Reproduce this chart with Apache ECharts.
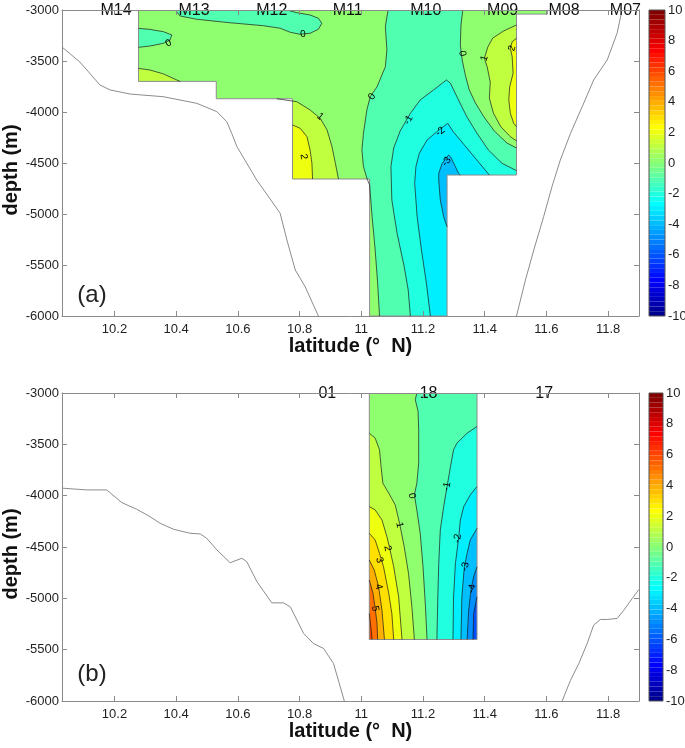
<!DOCTYPE html>
<html>
<head>
<meta charset="utf-8">
<script src="https://cdn.jsdelivr.net/npm/echarts@6.0.0/dist/echarts.min.js"></script>
<style>
html,body{margin:0;padding:0;background:#ffffff;}
#chart{width:685px;height:748px;}
</style>
</head>
<body>
<div id="chart"></div>
<script>
// ---------------- axes ----------------
const latMin = 10.03, latMax = 11.9;
const latTicks = [10.2, 10.4, 10.6, 10.8, 11, 11.2, 11.4, 11.6, 11.8];
const depthMin = -6000, depthMax = -3000, depthStep = 500;
const cbarMin = -10, cbarMax = 10, cbarStep = 2;

// ---------------- stations ----------------
const stationsA = ['M14', 'M13', 'M12', 'M11', 'M10', 'M09', 'M08', 'M07'];
const stationLatA = [10.205, 10.458, 10.710, 10.956, 11.209, 11.458, 11.657, 11.856];
const stationsB = ['01', '18', '17'];
const stationLatB = [10.890, 11.218, 11.593];

// ---------------- bathymetry (lat, depth) ----------------
const bathyA_west = [[10.030,-3363],[10.088,-3510],[10.153,-3735],[10.186,-3784],[10.251,-3824],[10.358,-3850],[10.467,-3915],[10.532,-3997],[10.564,-4095],[10.580,-4209],[10.597,-4340],[10.629,-4503],[10.661,-4667],[10.698,-4824],[10.737,-4993],[10.759,-5255],[10.786,-5549],[10.818,-5713],[10.861,-6000]];
const bathyA_east = [[11.845,-3000],[11.829,-3228],[11.797,-3490],[11.753,-3686],[11.716,-3948],[11.678,-4209],[11.645,-4471],[11.618,-4732],[11.591,-5026],[11.559,-5353],[11.532,-5647],[11.503,-6000]];
const bathyB_west = [[10.031,-3927],[10.110,-3944],[10.175,-3944],[10.224,-4068],[10.272,-4132],[10.315,-4204],[10.348,-4269],[10.391,-4327],[10.445,-4366],[10.478,-4373],[10.499,-4415],[10.532,-4529],[10.575,-4653],[10.613,-4610],[10.629,-4643],[10.662,-4839],[10.710,-5044],[10.748,-5044],[10.770,-5083],[10.813,-5342],[10.845,-5440],[10.878,-5489],[10.910,-5635],[10.945,-6000]];
const bathyB_east = [[11.900,-4913],[11.878,-5001],[11.851,-5115],[11.829,-5196],[11.797,-5206],[11.775,-5206],[11.753,-5261],[11.732,-5440],[11.705,-5635],[11.678,-5798],[11.651,-6000]];

// ---------------- panel (a) sampled section ----------------
const aColEdges = [10.278, 10.530, 10.777, 11.027, 11.278, 11.503];
const aColBottoms = [-3700, -3870, -4657, -6000, -4618];
const aStripEnd = 11.603, aStripBottom = -3040;

// contour lines, panel (a)
const aN0W   = [[10.278,-3180],[10.315,-3190],[10.359,-3213],[10.386,-3245],[10.380,-3294],[10.359,-3326],[10.315,-3353],[10.278,-3366]];
const aN0Top = [[10.397,-3000],[10.413,-3059],[10.467,-3091],[10.575,-3125],[10.683,-3154],[10.737,-3179],[10.770,-3219],[10.802,-3238],[10.834,-3228],[10.861,-3189],[10.872,-3130],[10.861,-3081],[10.834,-3049],[10.791,-3026],[10.759,-3000]];
const aZeroW = [[11.087,-3000],[11.083,-3066],[11.078,-3164],[11.083,-3392],[11.078,-3556],[11.051,-3752],[11.029,-3850],[11.018,-3980],[11.007,-4209],[11.002,-4373],[11.007,-4536],[11.019,-4657],[11.027,-4716],[11.035,-5027],[11.045,-5353],[11.053,-5679],[11.059,-6000]];
const aZeroE = [[11.329,-3000],[11.323,-3147],[11.321,-3343],[11.327,-3490],[11.337,-3637],[11.350,-3784],[11.370,-3912],[11.397,-4046],[11.431,-4186],[11.472,-4304],[11.503,-4353]];
const aM1 = [[11.159,-6000],[11.152,-5745],[11.139,-5517],[11.116,-5189],[11.099,-4863],[11.096,-4536],[11.105,-4353],[11.126,-4186],[11.159,-4013],[11.191,-3882],[11.234,-3784],[11.276,-3686],[11.289,-3719],[11.315,-3882],[11.342,-4046],[11.375,-4209],[11.412,-4373],[11.456,-4503],[11.503,-4575]];
const aM2 = [[11.224,-6000],[11.211,-5679],[11.195,-5353],[11.181,-5027],[11.173,-4699],[11.177,-4536],[11.188,-4405],[11.213,-4275],[11.245,-4193],[11.280,-4111],[11.298,-4193],[11.334,-4324],[11.379,-4487],[11.415,-4618]];
const aM3 = [[11.278,-5125],[11.267,-5027],[11.256,-4863],[11.251,-4667],[11.251,-4601],[11.262,-4503],[11.283,-4422],[11.289,-4438],[11.305,-4536],[11.315,-4601],[11.321,-4618]];
const aP1E = [[11.503,-3147],[11.461,-3206],[11.426,-3275],[11.410,-3363],[11.399,-3474],[11.408,-3559],[11.418,-3706],[11.415,-3863],[11.428,-4010],[11.452,-4144],[11.483,-4242],[11.503,-4284]];
const aP2E = [[11.503,-3277],[11.489,-3311],[11.483,-3375],[11.489,-3458],[11.492,-3621],[11.481,-3752],[11.478,-3882],[11.483,-4013],[11.494,-4111],[11.503,-4144]];
const aP1W = [[10.726,-3870],[10.791,-3899],[10.834,-3980],[10.867,-4062],[10.889,-4176],[10.905,-4340],[10.916,-4503],[10.926,-4657]];
const aP2W = [[10.777,-4127],[10.802,-4160],[10.824,-4242],[10.834,-4373],[10.840,-4503],[10.842,-4657]];
const aP1NW = [[10.278,-3572],[10.315,-3588],[10.359,-3627],[10.402,-3686],[10.413,-3700]];
const aLabels = [[10.375,-3326,'0'],[10.811,-3238,'0'],[10.867,-4046,'1'],[10.813,-4438,'2'],[11.035,-3850,'0'],[11.327,-3425,'0'],[11.399,-3474,'1'],[11.489,-3375,'2'],[11.153,-4078,'-1'],[11.256,-4193,'-2'],[11.276,-4487,'-3']];

// ---------------- panel (b) sampled section ----------------
const bLeft = 11.026, bRight = 11.375, bBottom = -5401;
const bL6 = [[11.026,-5148],[11.031,-5278],[11.035,-5401]];
const bL5 = [[11.026,-4822],[11.038,-4952],[11.045,-5099],[11.051,-5245],[11.053,-5401]];
const bL4 = [[11.026,-4627],[11.042,-4725],[11.056,-4887],[11.067,-5115],[11.075,-5401]];
const bL3 = [[11.026,-4367],[11.045,-4432],[11.059,-4562],[11.072,-4692],[11.089,-4952],[11.099,-5148],[11.105,-5401]];
const bL2 = [[11.026,-4106],[11.045,-4139],[11.067,-4237],[11.083,-4399],[11.092,-4513],[11.105,-4692],[11.121,-4985],[11.132,-5401]];
const bL1 = [[11.026,-3391],[11.045,-3440],[11.059,-3553],[11.064,-3716],[11.070,-3879],[11.089,-3976],[11.110,-4090],[11.124,-4269],[11.139,-4497],[11.153,-4757],[11.164,-5082],[11.172,-5401]];
const bL0 = [[11.180,-3000],[11.175,-3065],[11.184,-3179],[11.186,-3358],[11.186,-3684],[11.180,-3879],[11.172,-3993],[11.180,-4139],[11.191,-4367],[11.200,-4692],[11.208,-5082],[11.213,-5401]];
const bLm1 = [[11.375,-3326],[11.343,-3391],[11.310,-3488],[11.299,-3553],[11.289,-3716],[11.278,-3911],[11.267,-4106],[11.256,-4334],[11.251,-4660],[11.248,-4985],[11.245,-5401]];
const bLm2 = [[11.375,-3911],[11.353,-3993],[11.332,-4106],[11.321,-4237],[11.316,-4399],[11.305,-4660],[11.299,-4985],[11.297,-5401]];
const bLm3 = [[11.375,-4318],[11.353,-4432],[11.343,-4562],[11.334,-4692],[11.326,-4985],[11.323,-5401]];
const bLm4 = [[11.375,-4692],[11.364,-4790],[11.356,-4904],[11.348,-5115],[11.343,-5401]];
const bLm5 = [[11.375,-4985],[11.364,-5148],[11.362,-5401]];
const bLabels = [[11.164,-4002,'0'],[11.124,-4285,'1'],[11.085,-4513,'2'],[11.059,-4627,'3'],[11.056,-4887,'4'],[11.045,-5099,'5'],[11.278,-3911,'-1'],[11.312,-4416,'-2'],[11.337,-4692,'-3'],[11.359,-4904,'-4']];

// ---------------- helpers ----------------
const FONT = '"Liberation Sans", Arial, Helvetica, sans-serif';
const AXIS_COLOR = '#8a8a8a';
const TEXT_COLOR = '#1f1f1f';
const LINE_COLOR = '#1a1a1a';

function jet64(i) {
  let r, g, b;
  if (i <= 8) { r = 0; g = 0; b = 0.5 + 0.0625 * i; }
  else if (i <= 24) { r = 0; g = (i - 8) * 0.0625; b = 1; }
  else if (i <= 40) { r = (i - 24) * 0.0625; g = 1; b = 1 - (i - 24) * 0.0625; }
  else if (i <= 56) { r = 1; g = 1 - (i - 40) * 0.0625; b = 0; }
  else { r = 1 - (i - 56) * 0.0625; g = 0; b = 0; }
  return 'rgb(' + Math.round(r * 255) + ',' + Math.round(g * 255) + ',' + Math.round(b * 255) + ')';
}
function jetColor(v) {
  let i = Math.floor((v - cbarMin) / (cbarMax - cbarMin) * 64) + 1;
  i = Math.max(1, Math.min(64, i));
  return jet64(i);
}
const last = a => a[a.length - 1];
const cat = (...parts) => parts.reduce((acc, p) => acc.concat(p), []);
const rectPts = (x0, x1, y0, y1) => [[x0, y0], [x1, y0], [x1, y1], [x0, y1]];

function columnDomain(edges, bottoms) {
  const pts = [[edges[0], depthMax]];
  for (let k = 0; k < bottoms.length; k++) { pts.push([edges[k], bottoms[k]]); pts.push([edges[k + 1], bottoms[k]]); }
  return pts;
}

// panel (a) filled bands, painted in order (value = lower level of band)
const E5 = last(aColEdges);
const domainA = cat(columnDomain(aColEdges, aColBottoms), [[E5, depthMax]]);
const fillsA = [
  { pts: domainA, v: 0 },
  { pts: rectPts(E5, aStripEnd, aStripBottom, depthMax), v: 0 },
  { pts: cat(aN0W, [[latMin, last(aN0W)[1]], [latMin, aN0W[0][1]]]), v: -1 },
  { pts: aN0Top, v: -1 },
  { pts: cat(aZeroW, [[E5, depthMin]], aZeroE.slice().reverse()), v: -1 },
  { pts: cat(aM1, [[E5, depthMin]]), v: -2 },
  { pts: cat(aM2, [[last(aM2)[0], depthMin]]), v: -3 },
  { pts: cat(aM3, [[last(aM3)[0], aM3[0][1]]]), v: -4 },
  { pts: aP1E, v: 1 },
  { pts: aP2E, v: 2 },
  { pts: cat(aP1W, [[last(aP1W)[0], depthMin], [latMin, depthMin], [latMin, aP1W[0][1]]]), v: 1 },
  { pts: cat(aP2W, [[last(aP2W)[0], depthMin], [latMin, depthMin], [latMin, aP2W[0][1]]]), v: 2 },
  { pts: cat(aP1NW, [[last(aP1NW)[0], depthMin], [latMin, depthMin], [latMin, aP1NW[0][1]]]), v: 1 }
];
// one white mask polygon covering everything outside the sampled area
const domainEdgeRev = columnDomain(aColEdges, aColBottoms).slice(1).reverse();
const maskA = cat(
  [[latMin - 0.05, depthMax + 50], [latMin - 0.05, depthMin - 50], [latMax + 0.05, depthMin - 50], [latMax + 0.05, depthMax + 50],
   [aStripEnd, depthMax + 50], [aStripEnd, aStripBottom], [E5, aStripBottom]],
  domainEdgeRev,
  [[aColEdges[0], depthMax + 50]]
);
const outlineA = cat(columnDomain(aColEdges, aColBottoms), [[E5, aStripBottom], [aStripEnd, aStripBottom], [aStripEnd, depthMax], [aColEdges[0], depthMax]]);
const linesA = [aN0W, aN0Top, aZeroW, aZeroE, aM1, aM2, aM3, aP1E, aP2E, aP1W, aP2W, aP1NW];

// panel (b)
const fillsB = [
  { pts: rectPts(bLeft, bRight, bBottom, depthMax), v: 0 },
  { pts: cat(bL0, [[bRight, bBottom], [bRight, depthMax]]), v: -1 }
];
[bLm1, bLm2, bLm3, bLm4, bLm5].forEach((L, k) => fillsB.push({ pts: cat(L, [[bRight, bBottom]]), v: -2 - k }));
[bL1, bL2, bL3, bL4, bL5, bL6].forEach((L, k) => fillsB.push({ pts: cat(L, [[bLeft, bBottom]]), v: 1 + k }));
const outlineB = cat(rectPts(bLeft, bRight, bBottom, depthMax), [[bLeft, bBottom]]);
const linesB = [bL0, bL1, bL2, bL3, bL4, bL5, bL6, bLm1, bLm2, bLm3, bLm4, bLm5];

// colorbar cells
const cbCells = [];
for (let i = 1; i <= 64; i++) cbCells.push({ lo: cbarMin + (i - 1) * (cbarMax - cbarMin) / 64, hi: cbarMin + i * (cbarMax - cbarMin) / 64, c: jet64(i) });

// ---------------- series builders ----------------
function layer(items, ax, z, clip, make) {
  return {
    type: 'custom', xAxisIndex: ax[0], yAxisIndex: ax[1], z: z, clip: clip, silent: true, animation: false,
    data: items.map((_, i) => [i, i]),
    renderItem: (params, api) => make(items[params.dataIndex], api)
  };
}
const polyFill = (r, api) => ({ type: 'polygon', shape: { points: r.pts.map(p => api.coord(p)) }, style: { fill: r.fill } });
const polyLine = (color, w) => (L, api) => ({ type: 'polyline', shape: { points: L.map(p => api.coord(p)) }, style: { stroke: color, lineWidth: w, fill: null } });
function textStyle(t, font, fill) {
  return { text: t, font: font, fill: fill, align: 'center', verticalAlign: 'middle', textAlign: 'center', textVerticalAlign: 'middle' };
}
function segDist(p, a, b) {
  const dx = b[0] - a[0], dy = b[1] - a[1];
  const L2 = dx * dx + dy * dy || 1;
  let t = ((p[0] - a[0]) * dx + (p[1] - a[1]) * dy) / L2;
  t = Math.max(0, Math.min(1, t));
  const x = a[0] + t * dx - p[0], y = a[1] + t * dy - p[1];
  return Math.sqrt(x * x + y * y);
}
const contourLabel = lines => (item, api) => {
  const p = api.coord([item[0], item[1]]);
  let best = 1e9, ang = 0;
  lines.forEach(L => {
    for (let k = 0; k < L.length - 1; k++) {
      const a = api.coord(L[k]), b = api.coord(L[k + 1]);
      const d = segDist(p, a, b);
      if (d < best) { best = d; ang = Math.atan2(b[1] - a[1], b[0] - a[0]); }
    }
  });
  if (ang > Math.PI / 2) ang -= Math.PI;
  if (ang < -Math.PI / 2) ang += Math.PI;
  return { type: 'text', x: p[0], y: p[1], rotation: -ang, style: textStyle(item[2], '10px ' + FONT, '#000') };
};
const stationText = (s, api) => {
  const p = api.coord([s.lat, depthMax]);
  return { type: 'text', x: p[0], y: p[1] + 1, style: textStyle(s.name, '16px ' + FONT, '#111') };
};

fillsA.forEach(f => f.fill = jetColor(f.v));
fillsB.forEach(f => f.fill = jetColor(f.v));
const maskItems = [{ pts: maskA, fill: '#ffffff' }];
const cbItems = cbCells.map(c => ({ pts: rectPts(0, 1, c.lo, c.hi), fill: c.c }));
const stA = stationsA.map((n, i) => ({ name: n, lat: stationLatA[i] }));
const stB = stationsB.map((n, i) => ({ name: n, lat: stationLatB[i] }));
const cbFrame = [[[0, cbarMin], [1, cbarMin], [1, cbarMax], [0, cbarMax], [0, cbarMin]]];

// ---------------- axes ----------------
function latAxis(grid, pos, withLabels) {
  return {
    gridIndex: grid, type: 'value', min: latMin, max: latMax, position: pos, z: 10,
    axisLine: { show: true, onZero: false, lineStyle: { color: AXIS_COLOR, width: 1 } },
    axisTick: { show: true, inside: true, length: 5, customValues: latTicks, lineStyle: { color: AXIS_COLOR } },
    axisLabel: { show: withLabels, customValues: latTicks, margin: 7, color: TEXT_COLOR, fontSize: 13, fontFamily: FONT, formatter: v => String(v) },
    splitLine: { show: false },
    name: withLabels ? 'latitude (\u00B0  N)' : '', nameLocation: 'middle', nameGap: 19,
    nameTextStyle: { fontSize: 20, fontWeight: 'bold', color: '#111', fontFamily: FONT, verticalAlign: 'top' }
  };
}
function depthAxis(grid, pos, withLabels) {
  return {
    gridIndex: grid, type: 'value', min: depthMin, max: depthMax, interval: depthStep, position: pos, z: 10,
    axisLine: { show: true, onZero: false, lineStyle: { color: AXIS_COLOR, width: 1 } },
    axisTick: { show: true, inside: true, length: 5, lineStyle: { color: AXIS_COLOR } },
    axisLabel: { show: withLabels, margin: 3, color: TEXT_COLOR, fontSize: 13, fontFamily: FONT, formatter: v => String(v) },
    splitLine: { show: false },
    name: withLabels ? 'depth (m)' : '', nameLocation: 'middle', nameGap: 41, nameRotate: 90, nameMoveOverlap: false,
    nameTextStyle: { fontSize: 20, fontWeight: 'bold', color: '#111', fontFamily: FONT, padding: [0, 14, 0, 0] }
  };
}
function cbX(grid) { return { gridIndex: grid, type: 'value', min: 0, max: 1, show: false }; }
function cbY(grid) {
  return {
    gridIndex: grid, type: 'value', min: cbarMin, max: cbarMax, interval: cbarStep, position: 'right', z: 10,
    axisLine: { show: false }, axisTick: { show: false }, splitLine: { show: false },
    axisLabel: { show: true, margin: 3, color: TEXT_COLOR, fontSize: 13, fontFamily: FONT, formatter: v => String(v) }
  };
}

const option = {
  animation: false,
  backgroundColor: '#ffffff',
  grid: [
    { left: 62, top: 10, width: 577, height: 306, containLabel: false, outerBoundsMode: 'none' },
    { left: 62, top: 393, width: 577, height: 308, containLabel: false, outerBoundsMode: 'none' },
    { left: 649, top: 10, width: 16, height: 306, containLabel: false, outerBoundsMode: 'none' },
    { left: 649, top: 393, width: 14, height: 308, containLabel: false, outerBoundsMode: 'none' }
  ],
  xAxis: [latAxis(0, 'bottom', true), latAxis(0, 'top', false), latAxis(1, 'bottom', true), latAxis(1, 'top', false), cbX(2), cbX(3)],
  yAxis: [depthAxis(0, 'left', true), depthAxis(0, 'right', false), depthAxis(1, 'left', true), depthAxis(1, 'right', false), cbY(2), cbY(3)],
  graphic: [
    { type: 'text', x: 92, y: 295, z: 100, style: textStyle('(a)', '24px ' + FONT, '#222') },
    { type: 'text', x: 92, y: 674, z: 100, style: textStyle('(b)', '24px ' + FONT, '#222') }
  ],
  series: [
    // panel a
    layer(fillsA, [0, 0], 2, true, polyFill),
    layer(maskItems, [0, 0], 3, true, polyFill),
    layer([outlineA], [0, 0], 4, true, polyLine('#8c8c8c', 1)),
    layer(linesA, [0, 0], 5, true, polyLine(LINE_COLOR, 0.7)),
    layer(aLabels, [0, 0], 6, false, contourLabel(linesA)),
    layer([bathyA_west, bathyA_east], [0, 0], 7, true, polyLine('#8c8c8c', 1)),
    layer(stA, [0, 0], 8, false, stationText),
    // panel b
    layer(fillsB, [2, 2], 2, true, polyFill),
    layer([outlineB], [2, 2], 4, true, polyLine('#8c8c8c', 1)),
    layer(linesB, [2, 2], 5, true, polyLine(LINE_COLOR, 0.7)),
    layer(bLabels, [2, 2], 6, false, contourLabel(linesB)),
    layer([bathyB_west, bathyB_east], [2, 2], 7, true, polyLine('#8c8c8c', 1)),
    layer(stB, [2, 2], 8, false, stationText),
    // colorbars
    layer(cbItems, [4, 4], 2, false, polyFill),
    layer(cbFrame, [4, 4], 3, false, polyLine('#555555', 1)),
    layer(cbItems, [5, 5], 2, false, polyFill),
    layer(cbFrame, [5, 5], 3, false, polyLine('#555555', 1))
  ]
};

const chart = echarts.init(document.getElementById('chart'), null, { renderer: 'canvas' });
chart.setOption(option);
</script>
</body>
</html>
